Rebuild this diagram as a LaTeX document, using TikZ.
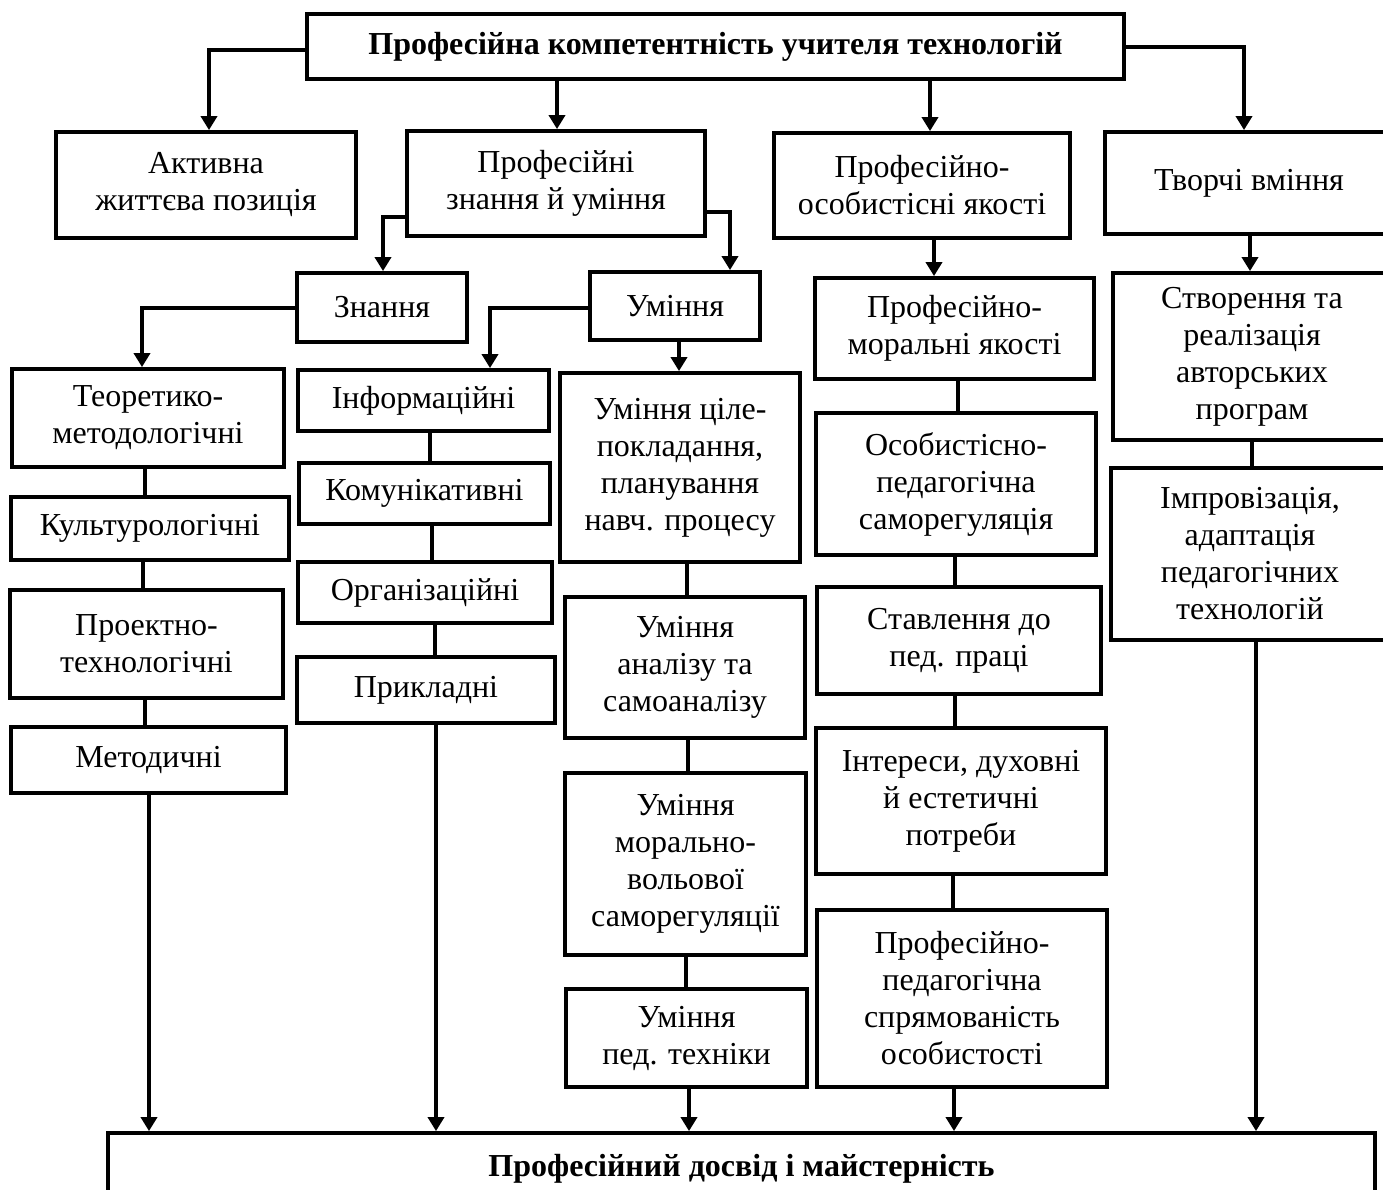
\documentclass[tikz,border=0pt]{standalone}
\usepackage{fontspec}
\setmainfont{Liberation Serif}
\usetikzlibrary{arrows.meta}
\newcommand\mkbox[6]{\node[bx, minimum width=#4pt, minimum height=#5pt] (#1) at (#2,#3) {#6};}
\begin{document}
\begin{tikzpicture}[x=1pt,y=-1pt,
  bx/.style={draw, line width=3.8pt, rectangle, inner sep=0pt, align=center, font=\fontsize{32}{37}\selectfont},
  ln/.style={line width=3.8pt},
  arr/.style={line width=3.8pt, -{Triangle[length=14pt,width=16pt]}}]
\useasboundingbox (0,0) rectangle (1383,1189);
\clip (0,0) rectangle (1383,1189);
% level 0
\mkbox{top}{715.5}{46.5}{817}{65}{\bfseries Професійна компетентність учителя технологій}
% level 1
\mkbox{act}{206}{185}{300}{106}{Активна\\життєва позиція}
\mkbox{pzu}{556}{183.5}{298}{105}{Професійні\\знання й уміння}
\mkbox{poy}{922}{185.5}{296}{105}{Професійно-\\особистісні якості}
\mkbox{tv}{1249}{183}{288}{102}{Творчі вміння}
% level 2
\mkbox{zn}{382}{307.5}{170}{69}{Знання}
\mkbox{um}{675}{306}{170}{68}{Уміння}
% knowledge
\mkbox{teo}{148}{418}{272}{98}{Теоретико-\\методологічні}
\mkbox{kult}{150}{528.5}{278}{63}{Культурологічні}
\mkbox{proekt}{146.5}{644}{273}{108}{Проектно-\\технологічні}
\mkbox{met}{148.5}{760}{275}{66}{Методичні}
\mkbox{inf}{423.5}{400.5}{251}{61}{Інформаційні}
\mkbox{kom}{424.5}{493.5}{251}{61}{Комунікативні}
\mkbox{org}{425}{592.5}{254}{61}{Організаційні}
\mkbox{prykl}{426}{690}{258}{66}{Прикладні}
% skills
\mkbox{umc}{680}{467.5}{240}{189}{Уміння ціле-\\покладання,\\планування\\навч. процесу}
\mkbox{uman}{685}{667.5}{240}{141}{Уміння\\аналізу та\\самоаналізу}
\mkbox{ummor}{685.5}{864}{241}{182}{Уміння\\морально-\\вольової\\саморегуляції}
\mkbox{umped}{686.5}{1038}{241}{98}{Уміння\\пед. техніки}
% qualities
\mkbox{pmor}{954.5}{328.5}{279}{101}{Професійно-\\моральні якості}
\mkbox{osob}{956}{484}{280}{142}{Особистісно-\\педагогічна\\саморегуляція}
\mkbox{stav}{959}{640.5}{284}{107}{Ставлення до\\пед. праці}
\mkbox{inter}{961}{801}{290}{146}{Інтереси, духовні\\й естетичні\\потреби}
\mkbox{ppn}{962}{998.5}{290}{177}{Професійно-\\педагогічна\\спрямованість\\особистості}
% creative
\mkbox{stv}{1252}{356.5}{278}{167}{Створення та\\реалізація\\авторських\\програм}
\mkbox{impr}{1250}{554}{278}{172}{Імпровізація,\\адаптація\\педагогічних\\технологій}
% bottom
\mkbox{bot}{741.5}{1169}{1267}{72}{\bfseries Професійний досвід і майстерність}
% connectors from top
\draw[arr] (top.west |- 0,50) -| (209,0 |- act.north);
\draw[arr] (557,0 |- top.south) -- (557,0 |- pzu.north);
\draw[arr] (930,0 |- top.south) -- (930,0 |- poy.north);
\draw[arr] (top.east |- 0,47) -| (1244,0 |- tv.north);
\draw[arr] (pzu.west |- 0,217) -| (383,0 |- zn.north);
\draw[arr] (pzu.east |- 0,212) -| (730,0 |- um.north);
\draw[arr] (zn.west |- 0,308) -| (142,0 |- teo.north);
\draw[arr] (um.west |- 0,308) -| (490,0 |- inf.north);
\draw[arr] (679,0 |- um.south) -- (679,0 |- umc.north);
\draw[arr] (934,0 |- poy.south) -- (934,0 |- pmor.north);
\draw[arr] (1250,0 |- tv.south) -- (1250,0 |- stv.north);
% chains
\draw[ln] (145,0 |- teo.south) -- (145,0 |- kult.north);
\draw[ln] (143,0 |- kult.south) -- (143,0 |- proekt.north);
\draw[ln] (145,0 |- proekt.south) -- (145,0 |- met.north);
\draw[arr] (149,0 |- met.south) -- (149,0 |- bot.north);
\draw[ln] (430,0 |- inf.south) -- (430,0 |- kom.north);
\draw[ln] (432,0 |- kom.south) -- (432,0 |- org.north);
\draw[ln] (435,0 |- org.south) -- (435,0 |- prykl.north);
\draw[arr] (436,0 |- prykl.south) -- (436,0 |- bot.north);
\draw[ln] (687,0 |- umc.south) -- (687,0 |- uman.north);
\draw[ln] (688,0 |- uman.south) -- (688,0 |- ummor.north);
\draw[ln] (686,0 |- ummor.south) -- (686,0 |- umped.north);
\draw[arr] (689,0 |- umped.south) -- (689,0 |- bot.north);
\draw[ln] (958,0 |- pmor.south) -- (958,0 |- osob.north);
\draw[ln] (955,0 |- osob.south) -- (955,0 |- stav.north);
\draw[ln] (955,0 |- stav.south) -- (955,0 |- inter.north);
\draw[ln] (953,0 |- inter.south) -- (953,0 |- ppn.north);
\draw[arr] (954,0 |- ppn.south) -- (954,0 |- bot.north);
\draw[ln] (1252,0 |- stv.south) -- (1252,0 |- impr.north);
\draw[arr] (1256,0 |- impr.south) -- (1256,0 |- bot.north);
\end{tikzpicture}
\end{document}
